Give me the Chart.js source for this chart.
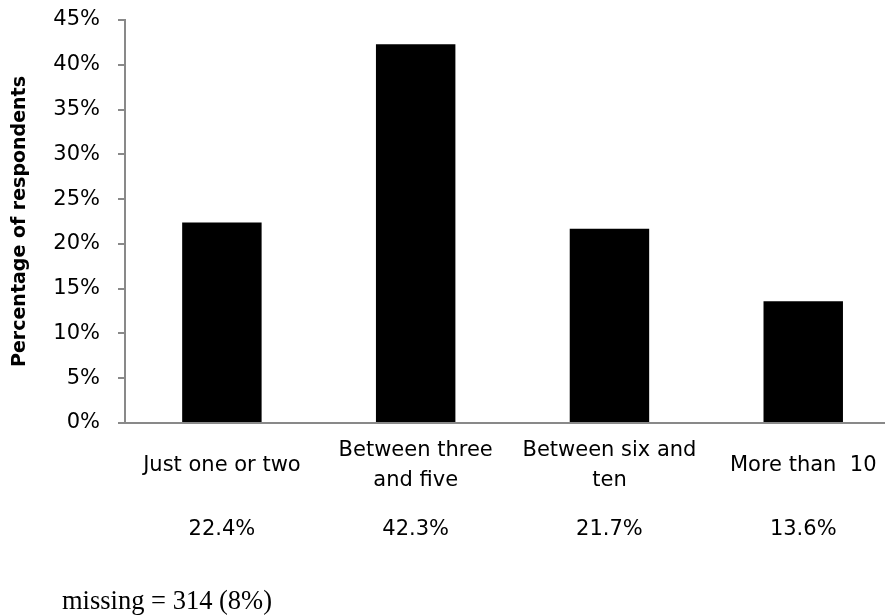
<!DOCTYPE html>
<html>
<head>
    <title>Percentage of respondents</title>
    <script src="https://cdn.jsdelivr.net/npm/chart.js"></script>
    <style>
        body { margin: 0; overflow: hidden; background: #fff; }
    </style>
</head>
<body>
    <canvas id="myChart" width="905" height="615"></canvas>
    <script>
        // Chart data
        const categories = [
            ['Just one or two'],
            ['Between three', 'and five'],
            ['Between six and', 'ten'],
            ['More than  10']
        ];
        const shares = [22.4, 42.3, 21.7, 13.6];
        const yTickStep = 5;
        const yMax = 45;
        const footnote = 'missing = 314 (8%)';

        const axisGrey = '#898989';
        const tickFont = { family: 'DejaVu Sans', size: 21, lineHeight: 1.42 };

        // footnote under the chart, plain text
        const footnotePlugin = {
            id: 'footnote',
            afterDraw(chart) {
                const ctx = chart.ctx;
                ctx.save();
                ctx.font = '26.5px "Liberation Serif"';
                ctx.fillStyle = '#000';
                ctx.textAlign = 'left';
                ctx.textBaseline = 'alphabetic';
                ctx.fillText(footnote, 62, 609);
                ctx.restore();
            }
        };

        const ctx = document.getElementById('myChart').getContext('2d');
        const chart = new Chart(ctx, {
            type: 'bar',
            data: {
                labels: categories,
                datasets: [{
                    data: shares,
                    backgroundColor: '#000',
                    borderWidth: 0,
                    barPercentage: 0.41,
                    categoryPercentage: 1.0
                }]
            },
            options: {
                responsive: false,
                animation: false,
                devicePixelRatio: 1,
                layout: { padding: { top: 20, bottom: 50, left: 0, right: 4 } },
                plugins: {
                    legend: { display: false },
                    tooltip: { enabled: false }
                },
                scales: {
                    x: {
                        type: 'category',
                        grid: { display: false, drawTicks: false },
                        border: { color: axisGrey, width: 2 },
                        ticks: {
                            color: '#000',
                            font: tickFont,
                            padding: 28,
                            maxRotation: 0,
                            autoSkip: false,
                            crossAlign: 'center'
                        },
                        afterFit: (scale) => { scale.height = 78; }
                    },
                    x2: {
                        type: 'category',
                        position: 'bottom',
                        weight: 1,
                        labels: shares.map(v => v.toFixed(1) + '%'),
                        grid: { display: false, drawTicks: false },
                        border: { display: false },
                        ticks: {
                            color: '#000',
                            font: tickFont,
                            padding: 14,
                            maxRotation: 0,
                            autoSkip: false
                        },
                        afterFit: (scale) => { scale.height = 64; }
                    },
                    y: {
                        min: 0,
                        max: yMax,
                        grid: {
                            display: true,
                            drawOnChartArea: false,
                            drawTicks: true,
                            tickLength: 7,
                            color: axisGrey,
                            lineWidth: 2
                        },
                        border: { color: axisGrey, width: 2 },
                        ticks: {
                            stepSize: yTickStep,
                            color: '#000',
                            font: tickFont,
                            padding: 18,
                            callback: (v) => v + '%'
                        },
                        title: {
                            display: true,
                            text: 'Percentage of respondents',
                            color: '#000',
                            font: { family: 'DejaVu Sans', size: 19, weight: 'bold' },
                            padding: { top: 9, bottom: 0 }
                        },
                        afterFit: (scale) => {
                            scale.width = 125;
                            scale.paddingTop = 0;
                            scale.paddingBottom = 0;
                        }
                    }
                }
            },
            plugins: [footnotePlugin]
        });
    </script>
</body>
</html>
